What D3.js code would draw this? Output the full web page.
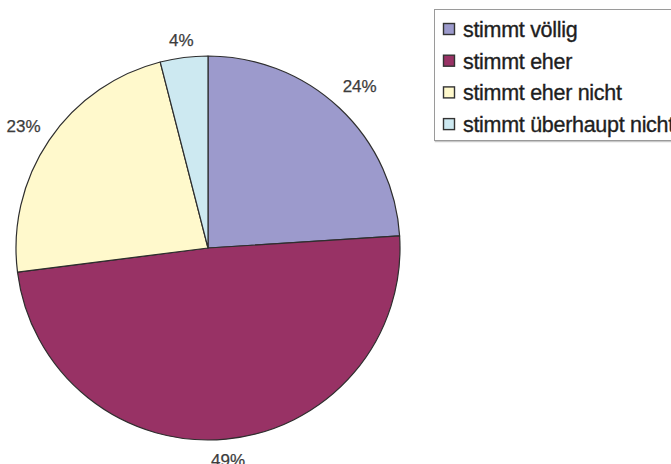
<!DOCTYPE html>
<html>
<head>
<meta charset="utf-8">
<script src="https://cdn.jsdelivr.net/npm/d3@7"></script>
<style>
  html, body { margin: 0; padding: 0; background: #fff; }
  svg { display: block; }
</style>
</head>
<body>
<svg id="chart" width="671" height="464"></svg>
<script>
// Antworten und Anteile (Prozent)
const categories = ["stimmt völlig", "stimmt eher", "stimmt eher nicht", "stimmt überhaupt nicht"];
const values = [24, 49, 23, 4];
const colors = ["#9c9acc", "#983265", "#fff9cc", "#cde9f1"];

const svg = d3.select("#chart");
const cx = 208, cy = 248, r = 192;

const pie = d3.pie().sort(null).value(d => d)(values);
const arc = d3.arc().innerRadius(0).outerRadius(r);

const g = svg.append("g").attr("transform", `translate(${cx},${cy})`);

g.selectAll("path.slice")
  .data(pie)
  .join("path")
  .attr("class", "slice")
  .attr("d", arc)
  .attr("fill", (d, i) => colors[i])
  .attr("stroke", "#2e2e2e")
  .attr("stroke-width", 1.2)
  .attr("stroke-linejoin", "round");

// Prozentbeschriftungen außerhalb der Segmente
const labelGap = 13.5;
g.selectAll("text.pct")
  .data(pie)
  .join("text")
  .attr("class", "pct")
  .attr("font-family", "Liberation Sans, Arial, sans-serif")
  .attr("font-size", 17)
  .attr("fill", "#3c3c3c")
  .attr("stroke", "#3c3c3c")
  .attr("stroke-width", 0.25)
  .attr("text-anchor", "middle")
  .attr("dominant-baseline", "central")
  .text(d => d.value + "%")
  .each(function (d) {
    const a = (d.startAngle + d.endAngle) / 2;
    const bb = this.getBBox();
    const s = Math.sin(a), c = Math.cos(a);
    // Abstand vom Rand plus halbe Ausdehnung des Textes in Richtung des Winkels
    const dist = r + labelGap + Math.abs(s) * bb.width / 2 + Math.abs(c) * 6;
    // Beschriftungen oben links sitzen etwas tiefer
    const nudge = (s < 0 && c > 0) ? 4 : 0;
    d3.select(this).attr("x", s * dist).attr("y", -c * dist + nudge);
  });

// Legende
const legend = svg.append("g").attr("transform", "translate(434,9)");
legend.append("rect")
  .attr("x", 1.5).attr("y", 1.5)
  .attr("width", 260).attr("height", 131)
  .attr("fill", "none")
  .attr("stroke", "#c8c8c8")
  .attr("stroke-width", 1.5);
legend.append("rect")
  .attr("x", 0.5).attr("y", 0.5)
  .attr("width", 260).attr("height", 131)
  .attr("fill", "#fff")
  .attr("stroke", "#9a9a9a")
  .attr("stroke-width", 1);

const rows = legend.selectAll("g.item")
  .data(categories)
  .join("g")
  .attr("class", "item")
  .attr("transform", (d, i) => `translate(0,${20 + i * 31.7})`);

rows.append("rect")
  .attr("x", 9.5).attr("y", -5.5)
  .attr("width", 11).attr("height", 11)
  .attr("fill", (d, i) => colors[i])
  .attr("stroke", "#333")
  .attr("stroke-width", 1.4);

rows.append("text")
  .attr("x", 29)
  .attr("y", 1)
  .attr("dominant-baseline", "central")
  .attr("font-family", "Liberation Sans, Arial, sans-serif")
  .attr("font-size", 21.5)
  .attr("fill", "#1e1e1e")
  .attr("stroke", "#1e1e1e")
  .attr("stroke-width", 0.35)
  .attr("letter-spacing", -0.3)
  .text(d => d);
</script>
</body>
</html>
